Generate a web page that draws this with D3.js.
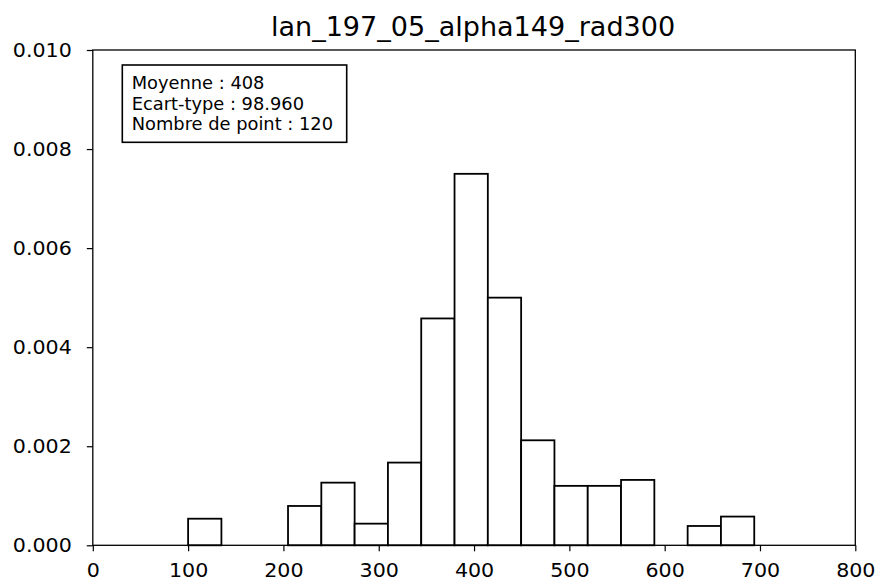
<!DOCTYPE html>
<html>
<head>
<meta charset="utf-8">
<script src="https://cdn.jsdelivr.net/npm/d3@7"></script>
<style>
  html, body { margin: 0; padding: 0; background: #fff; }
  svg { display: block; font-family: "DejaVu Sans", sans-serif; }
</style>
</head>
<body>
<svg id="chart" width="879" height="581"></svg>
<script>
// ---- data ----
const title = "lan_197_05_alpha149_rad300";
const binEdges = [100.0, 134.94, 169.88, 204.82, 239.76, 274.7, 309.64, 344.58, 379.52, 414.46,
                  449.4, 484.34, 519.28, 554.22, 589.16, 624.1, 659.04, 693.98];
const densities = [0.000537, 0, 0, 0.000794, 0.001265, 0.000437, 0.00167, 0.00458, 0.0075,
                   0.0050, 0.00212, 0.00120, 0.00120, 0.00132, 0, 0.00039, 0.00058];
const xTicks = [0, 100, 200, 300, 400, 500, 600, 700, 800];
const yTicks = [0, 0.002, 0.004, 0.006, 0.008, 0.010];
const statLines = ["Moyenne : 408", "Ecart-type : 98.960", "Nombre de point : 120"];

// ---- layout ----
const svg = d3.select("#chart");
const L = 92.8, R = 855.3, T = 50, B = 545.3;
const SX = 1.03; // slight horizontal stretch of tick text

const x = d3.scaleLinear().domain([0, 800]).range([L, R]);
const y = d3.scaleLinear().domain([0, 0.010]).range([B, T]);

const bins = densities.map((d, i) => ({ x0: binEdges[i], x1: binEdges[i + 1], d }));

// bars
svg.append("g").selectAll("rect").data(bins).join("rect")
  .attr("x", b => x(b.x0))
  .attr("y", b => y(b.d))
  .attr("width", b => x(b.x1) - x(b.x0))
  .attr("height", b => y(0) - y(b.d))
  .attr("fill", "#fff")
  .attr("stroke", "#000")
  .attr("stroke-width", 1.8);

function stretchText(g) {
  g.selectAll(".tick text").each(function () {
    const t = d3.select(this);
    const tx = +t.attr("x") || 0;
    t.attr("x", 0).attr("transform", `translate(${tx},0) scale(${SX},1)`);
  });
}

// x axis
const gx = svg.append("g").attr("transform", `translate(0,${B})`)
  .call(d3.axisBottom(x).tickValues(xTicks).tickFormat(d3.format("d")).tickSize(6).tickPadding(12));
gx.attr("font-family", null).attr("font-size", null);
gx.select(".domain").remove();
gx.selectAll(".tick line").attr("stroke", "#000").attr("stroke-width", 1.2);
gx.selectAll(".tick text").attr("font-size", "20px").attr("fill", "#000")
  .attr("font-family", "DejaVu Sans");
stretchText(gx);

// y axis
const gy = svg.append("g").attr("transform", `translate(${L},0)`)
  .call(d3.axisLeft(y).tickValues(yTicks).tickFormat(d3.format(".3f")).tickSize(6).tickPadding(15));
gy.attr("font-family", null).attr("font-size", null);
gy.select(".domain").remove();
gy.selectAll(".tick line").attr("stroke", "#000").attr("stroke-width", 1.2);
gy.selectAll(".tick text").attr("font-size", "20px").attr("fill", "#000")
  .attr("font-family", "DejaVu Sans");
stretchText(gy);

// frame (spines)
svg.append("rect")
  .attr("x", L).attr("y", T).attr("width", R - L).attr("height", B - T)
  .attr("fill", "none").attr("stroke", "#000").attr("stroke-width", 1.3);

// title
svg.append("text")
  .attr("transform", `translate(${(L + R) / 2 - 1},35.7) scale(1.04,1)`)
  .attr("text-anchor", "middle")
  .attr("font-size", "26px")
  .attr("fill", "#000")
  .text(title);

// stats box
svg.append("rect")
  .attr("x", 122.3).attr("y", 65).attr("width", 224.4).attr("height", 77.3)
  .attr("fill", "#fff").attr("stroke", "#000").attr("stroke-width", 1.6);
svg.append("g").selectAll("text").data(statLines).join("text")
  .attr("transform", (d, i) => `translate(131.7,${88.8 + i * 20.8}) scale(1.02,1)`)
  .attr("font-size", "17.5px")
  .attr("fill", "#000")
  .text(d => d);
</script>
</body>
</html>
